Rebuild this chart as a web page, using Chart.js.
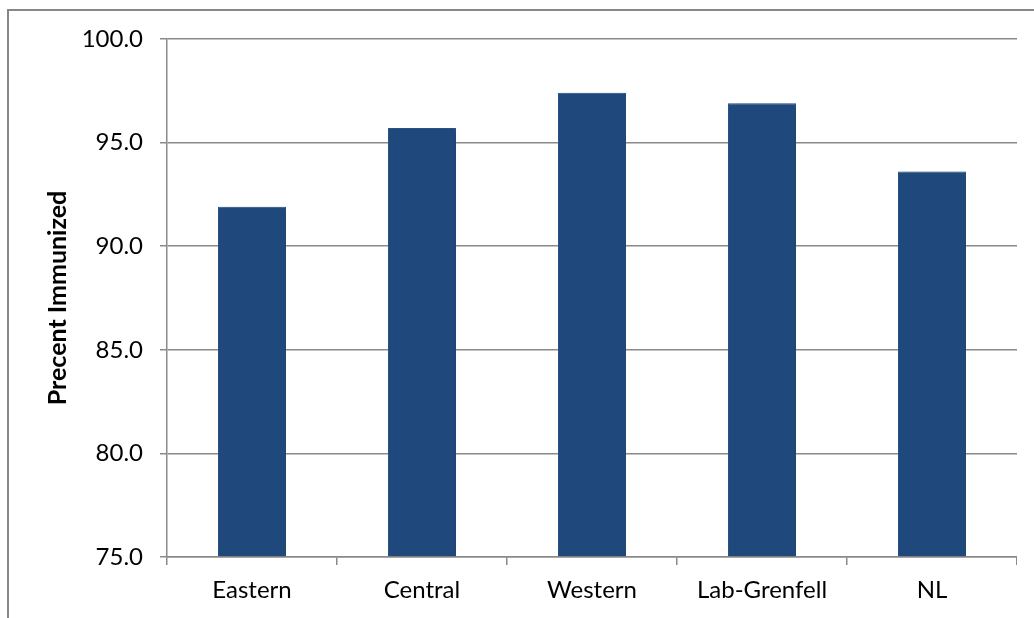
<!DOCTYPE html>
<html>
<head>
<meta charset="utf-8">
<script src="https://cdn.jsdelivr.net/npm/chart.js@4.4.1/dist/chart.umd.min.js"></script>
<style>
  html, body { margin: 0; padding: 0; background: #ffffff; }
  #wrap { position: relative; width: 1034px; height: 618px; overflow: hidden; }
  /* chart object frame: only its left and top edges fall inside the view */
  #frame {
    position: absolute; left: 7px; top: 9px; width: 1100px; height: 700px;
    border-left: 2px solid #878787; border-top: 2px solid #878787;
  }
  #chart { position: absolute; left: 0; top: 0; }
</style>
</head>
<body>
<div id="wrap">
  <div id="frame"></div>
  <canvas id="chart" width="1017" height="618"></canvas>
</div>
<script>
// Immunization coverage by health region
const regions = ['Eastern', 'Central', 'Western', 'Lab-Grenfell', 'NL'];
const percentImmunized = [91.9, 95.7, 97.4, 96.9, 93.6];
const yMin = 75;
const yMax = 100;
const yStep = 5;

const FONT = 'Lato, "Open Sans", sans-serif';
const GRID = '#8a8a8a';

// Soft drop shadow under the bars
const shadowPlugin = {
  id: 'barShadow',
  beforeDatasetsDraw(chart) {
    const ctx = chart.ctx;
    ctx.save();
    ctx.shadowColor = 'rgba(0,0,0,0.3)';
    ctx.shadowBlur = 6;
    ctx.shadowOffsetX = 1.5;
    ctx.shadowOffsetY = 1.5;
  },
  afterDatasetsDraw(chart) {
    chart.ctx.restore();
  }
};

new Chart(document.getElementById('chart'), {
  type: 'bar',
  data: {
    labels: regions,
    datasets: [{
      data: percentImmunized,
      backgroundColor: '#1f497d',
      borderColor: '#2b5888',
      borderWidth: 1,
      categoryPercentage: 1.0,
      barPercentage: 0.4,
      base: yMin
    }]
  },
  options: {
    responsive: false,
    animation: false,
    devicePixelRatio: 1,
    layout: { padding: { left: 0, right: 0, top: 39, bottom: 0 } },
    plugins: {
      legend: { display: false },
      tooltip: { enabled: false }
    },
    scales: {
      x: {
        offset: true,
        grid: {
          offset: true,
          drawOnChartArea: false,
          drawTicks: true,
          tickLength: 8,
          color: GRID,
          lineWidth: 1.5
        },
        border: { color: GRID, width: 1.5 },
        ticks: {
          color: '#000',
          font: { family: FONT, size: 24 },
          padding: 11
        },
        afterFit(scale) { scale.height = 61; }
      },
      y: {
        min: yMin,
        max: yMax,
        ticks: {
          stepSize: yStep,
          color: '#000',
          font: { family: FONT, size: 24 },
          padding: 17,
          callback: (v) => Number(v).toFixed(1)
        },
        grid: {
          color: GRID,
          lineWidth: 1.5,
          tickLength: 7
        },
        border: { color: GRID, width: 1.5 },
        title: {
          display: true,
          text: 'Precent Immunized',
          color: '#000',
          font: { family: FONT, size: 25, weight: 'bold' },
          padding: { top: 43, bottom: 0 }
        },
        afterFit(scale) { scale.width = 167; }
      }
    }
  },
  plugins: [shadowPlugin]
});
</script>
</body>
</html>
